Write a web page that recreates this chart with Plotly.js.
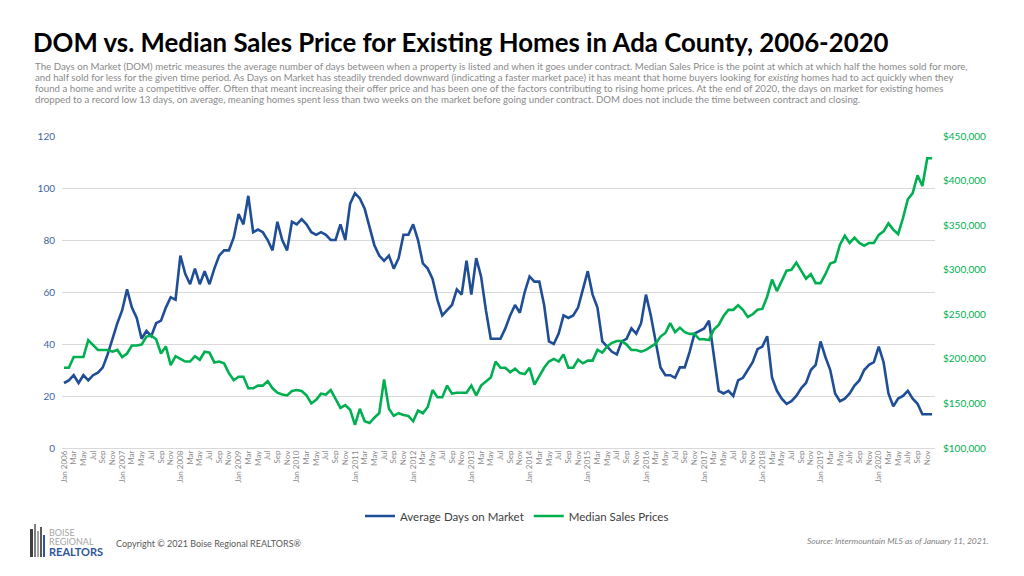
<!DOCTYPE html>
<html><head><meta charset="utf-8">
<script src="https://cdn.plot.ly/plotly-3.0.1.min.js"></script>
<style>html,body{margin:0;padding:0;background:#fff;}#chart{width:1024px;height:576px;}</style>
</head><body><div id="chart"></div>
<script>
// ---- DATA ----
const startYear = 2006;
const endYear = 2020;
// Average Days on Market, monthly Jan 2006 - Dec 2020
const domValues = [
  25, 26, 28, 25, 28, 26, 28, 29, 31, 36, 42, 48,
  53, 61, 54, 50, 42, 45, 43, 48, 49, 54, 58, 57,
  74, 67, 63, 69, 63, 68, 63, 69, 74, 76, 76, 81,
  90, 86, 97, 83, 84, 83, 80, 76, 87, 80, 76, 87,
  86, 88, 86, 83, 82, 83, 82, 80, 80, 86, 80, 94,
  98, 96, 92, 85, 78, 74, 72, 74, 69, 73, 82, 82,
  86, 80, 71, 69, 65, 57, 51, 53, 55, 61, 59, 72,
  59, 73, 66, 53, 42, 42, 42, 46, 51, 55, 52, 60,
  66, 64, 64, 55, 41, 40, 44, 51, 50, 51, 54, 61,
  68, 59, 54, 41, 39, 37, 36, 41, 42, 46, 44, 48,
  59, 51, 41, 31, 28, 28, 27, 31, 31, 37, 44, 45,
  46, 49, 35, 22, 21, 22, 20, 26, 27, 30, 33, 38,
  39, 43, 27, 22, 19, 17, 18, 20, 23, 25, 30, 32,
  41, 35, 30, 21, 18, 19, 21, 24, 26, 30, 32, 33,
  39, 33, 21, 16, 19, 20, 22, 19, 17, 13, 13, 13
];
// Median Sales Prices (USD), monthly Jan 2006 - Dec 2020
const priceValues = [
  190000, 190000, 202000, 202000, 202000, 221000, 215000, 210000, 210000, 210000, 208000, 210000,
  202000, 206000, 215000, 215000, 216000, 225000, 226000, 222000, 206000, 214000, 193000, 203000,
  200000, 197000, 197000, 203000, 199000, 208000, 207000, 196000, 197000, 195000, 184000, 176000,
  180000, 180000, 167000, 167000, 170000, 170000, 175000, 167000, 162000, 160000, 159000, 164000,
  165000, 164000, 159000, 150000, 154000, 161000, 160000, 165000, 155000, 145000, 148000, 143000,
  126000, 144000, 130000, 128000, 134000, 139000, 177000, 144000, 136000, 139000, 137000, 136000,
  130000, 142000, 139000, 146000, 165000, 157000, 157000, 170000, 161000, 162000, 162000, 162000,
  170000, 159000, 170000, 174000, 179000, 197000, 190000, 190000, 185000, 189000, 184000, 183000,
  190000, 171000, 180000, 190000, 197000, 200000, 197000, 205000, 190000, 190000, 199000, 195000,
  198000, 198000, 210000, 207000, 214000, 218000, 220000, 220000, 216000, 210000, 210000, 208000,
  210000, 214000, 217000, 225000, 229000, 240000, 230000, 235000, 230000, 228000, 228000, 222000,
  222000, 221000, 233000, 238000, 248000, 255000, 255000, 260000, 255000, 247000, 250000, 255000,
  256000, 270000, 289000, 276000, 287000, 299000, 300000, 308000, 299000, 290000, 295000, 285000,
  285000, 295000, 307000, 309000, 328000, 338000, 330000, 336000, 330000, 327000, 330000, 330000,
  339000, 343000, 352000, 345000, 340000, 358000, 379000, 386000, 406000, 394000, 425000, 425000
];
// Tick labels (every other month); later years spell out "July"
const tickMonthsStd = ["Jan", "Mar", "May", "Jul", "Sep", "Nov"];
const tickMonthsLate = ["Jan", "Mar", "May", "July", "Sep", "Nov"];
const lateLabelYears = [2019, 2020];
const seriesNames = ["Average Days on Market", "Median Sales Prices"];

// ---- BUILD ----
const xIdx = domValues.map((_, i) => i);
const tickVals = [], tickText = [];
for (let y = startYear; y <= endYear; y++) {
  const names = lateLabelYears.includes(y) ? tickMonthsLate : tickMonthsStd;
  names.forEach((n, k) => {
    tickVals.push((y - startYear) * 12 + k * 2);
    tickText.push(k === 0 ? n + " " + y : n);
  });
}

const L = 62, R = 935, T = 136, B = 448;
const W = R - L, H = B - T;
const px = x => (x - L) / W;
const py = y => (B - y) / H;

const FONT = "Lato, 'Open Sans', sans-serif";

const traces = [
  {x: xIdx, y: domValues, name: seriesNames[0], type: "scatter", mode: "lines",
   line: {color: "#1f4e96", width: 2.6}, yaxis: "y"},
  {x: xIdx, y: priceValues, name: seriesNames[1], type: "scatter", mode: "lines",
   line: {color: "#00b050", width: 2.6}, yaxis: "y2"}
];

const descLines = [
  "The Days on Market (DOM) metric measures the average number of days between when a property is listed and when it goes under contract. Median Sales Price is the point at which at which half the homes sold for more,",
  "and half sold for less for the given time period. As Days on Market has steadily trended downward (indicating a faster market pace) it has meant that home buyers looking for <i>existing</i> homes had to act quickly when they",
  "found a home and write a competitive offer. Often that meant increasing their offer price and has been one of the factors contributing to rising home prices. At the end of 2020, the days on market for existing homes",
  "dropped to a record low 13 days, on average, meaning homes spent less than two weeks on the market before going under contract. DOM does not include the time between contract and closing."
];
const descY = [66, 77, 88, 99];

const annotations = descLines.map((t, i) => ({
  text: t, xref: "paper", yref: "paper", x: px(33), y: py(descY[i]),
  xanchor: "left", yanchor: "middle", showarrow: false,
  font: {family: FONT, size: 9.7, color: "#8a8a8a"}
}));

annotations.push({
  text: "Copyright © 2021 Boise Regional REALTORS®", xref: "paper", yref: "paper",
  x: px(114), y: py(543), xanchor: "left", yanchor: "middle", showarrow: false,
  font: {family: FONT, size: 9, color: "#595959"}
});
annotations.push({
  text: "<i>Source: Intermountain MLS as of January 11, 2021.</i>", xref: "paper", yref: "paper",
  x: px(991), y: py(541), xanchor: "right", yanchor: "middle", showarrow: false,
  font: {family: FONT, size: 8.5, color: "#7f7f7f"}
});
// logo text
annotations.push({text: "BOISE", xref: "paper", yref: "paper", x: px(47), y: py(532),
  xanchor: "left", yanchor: "middle", showarrow: false, font: {family: FONT, size: 9, color: "#a6a6a6"}});
annotations.push({text: "REGIONAL", xref: "paper", yref: "paper", x: px(47), y: py(541),
  xanchor: "left", yanchor: "middle", showarrow: false, font: {family: FONT, size: 9, color: "#a6a6a6"}});
annotations.push({text: "<b>REALTORS</b>", xref: "paper", yref: "paper", x: px(47), y: py(551),
  xanchor: "left", yanchor: "middle", showarrow: false, font: {family: FONT, size: 11, color: "#2e5597"}});

const bars = [
  {x0: 30, x1: 33, y0: 529, y1: 557, c: "#404040"},
  {x0: 34, x1: 36, y0: 524, y1: 557, c: "#7f7f7f"},
  {x0: 37, x1: 39, y0: 531, y1: 557, c: "#a6a6a6"},
  {x0: 40, x1: 42, y0: 527, y1: 557, c: "#595959"},
  {x0: 43, x1: 45, y0: 535, y1: 557, c: "#2e5597"}
];
const shapes = bars.map(b => ({
  type: "rect", xref: "paper", yref: "paper", x0: px(b.x0), x1: px(b.x1),
  y0: py(b.y1), y1: py(b.y0), fillcolor: b.c, line: {width: 0}
}));

const layout = {
  width: 1024, height: 576,
  margin: {l: L, r: 1024 - R, t: T, b: 576 - B, pad: 0},
  paper_bgcolor: "#ffffff", plot_bgcolor: "#ffffff",
  font: {family: FONT},
  title: {
    text: "<b>DOM vs. Median Sales Price for Existing Homes in Ada County, 2006-2020</b>",
    xref: "container", yref: "container", x: 33 / 1024, xanchor: "left",
    y: 1 - 43 / 576, yanchor: "middle",
    font: {family: FONT, size: 25.8, color: "#000000"}
  },
  showlegend: true,
  legend: {orientation: "h", x: px(517), xanchor: "center", y: py(516), yanchor: "middle",
    font: {family: FONT, size: 11.5, color: "#404040"}, bgcolor: "rgba(0,0,0,0)", itemwidth: 30},
  xaxis: {
    range: [-0.412, 179.6], tickmode: "array", tickvals: tickVals, ticktext: tickText,
    tickangle: -90, tickfont: {family: FONT, size: 8, color: "#8c8c8c"},
    showgrid: false, zeroline: false, showline: false, ticks: "", fixedrange: true
  },
  yaxis: {
    range: [0, 120], dtick: 20, tick0: 0, gridcolor: "#d9d9d9", gridwidth: 1,
    zeroline: true, zerolinecolor: "#d9d9d9", zerolinewidth: 1, showline: false,
    tickfont: {family: FONT, size: 10, color: "#3d64a3"}, ticks: "", ticklabelstandoff: 6
  },
  yaxis2: {
    range: [100000, 450000], dtick: 50000, tick0: 100000, overlaying: "y", side: "right",
    showgrid: false, zeroline: false, showline: false, tickformat: "$,.0f",
    tickfont: {family: FONT, size: 10, color: "#00b050"}, ticks: "", ticklabelstandoff: 7
  },
  annotations: annotations,
  shapes: shapes
};

Plotly.newPlot("chart", traces, layout, {displayModeBar: false, staticPlot: true});
</script>
</body></html>
